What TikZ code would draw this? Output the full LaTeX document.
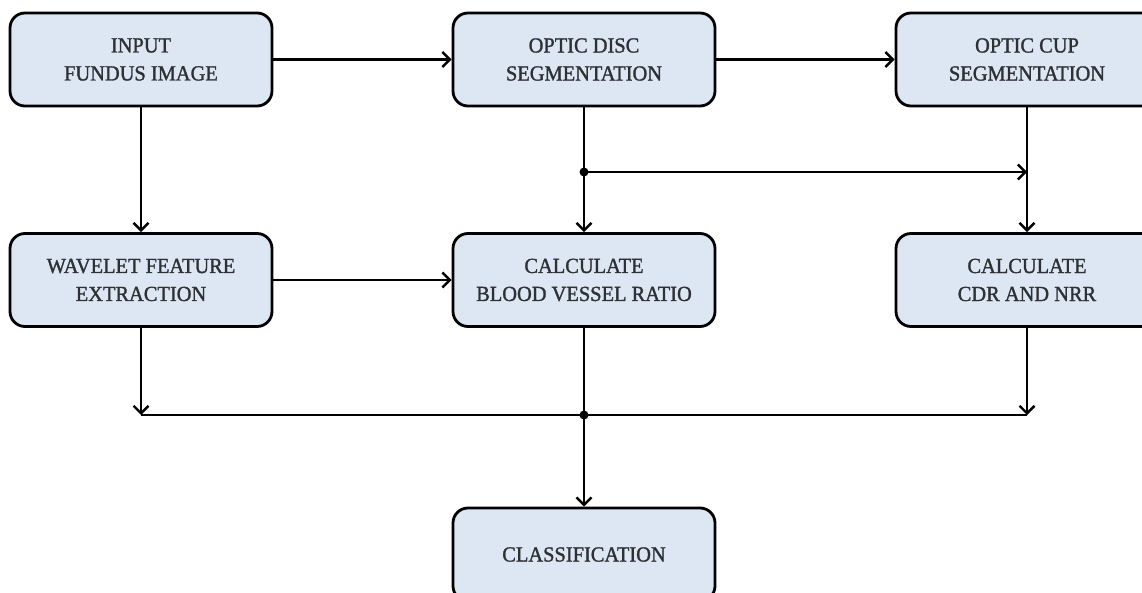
\documentclass[tikz,border=0pt]{standalone}
\usepackage{fontspec}
\setmainfont[FakeStretch=0.95,FakeBold=1.3]{Liberation Serif}
\usetikzlibrary{arrows.meta}
\definecolor{boxfill}{RGB}{221,231,243}
\definecolor{txt}{RGB}{45,48,52}
\tikzset{
  stepbox/.style={draw=black, line width=2.8pt, fill=boxfill, rounded corners=15pt,
    minimum width=262pt, minimum height=93pt, align=center, text=txt,
    font=\fontsize{21.5}{28}\selectfont, inner sep=0pt},
  conn/.style={line width=2.4pt, draw=black},
  arr/.style={conn, -{Straight Barb[length=7.5pt,width=15pt,line width=2.4pt]}},
  jdot/.style={circle, fill=black, inner sep=0pt, minimum size=9pt}
}
\begin{document}
\begin{tikzpicture}[x=1pt,y=-1pt]
\useasboundingbox (0,0) rectangle (1142,593);
\clip (0,0) rectangle (1142,593);
\node[stepbox] (A) at (141,59.5) {INPUT\\FUNDUS IMAGE};
\node[stepbox] (B) at (584,59.5) {OPTIC DISC\\SEGMENTATION};
\node[stepbox] (C) at (1027,59.5) {OPTIC CUP\\SEGMENTATION};
\node[stepbox] (D) at (141,280) {WAVELET FEATURE\\EXTRACTION};
\node[stepbox] (E) at (584,280) {CALCULATE\\BLOOD VESSEL RATIO};
\node[stepbox] (F) at (1027,280) {CALCULATE\\CDR AND NRR};
\node[stepbox] (G) at (584,554.5) {CLASSIFICATION};
\coordinate (j1) at (584,172);
\coordinate (j2) at (584,415);
\coordinate (l2) at (141,415);
\coordinate (r2) at (1027,415);
\coordinate (r1) at (1027,172);
\draw[arr] (A.east) -- (B.west);
\draw[arr] (B.east) -- (C.west);
\draw[arr] (A.south) -- (D.north);
\draw[conn] (B.south) -- (j1);
\draw[arr] (j1) -- (E.north);
\draw[arr] (j1) -- (r1);
\draw[arr] (C.south) -- (F.north);
\draw[arr] (D.east) -- (E.west);
\draw[arr] (D.south) -- (l2);
\draw[arr] (F.south) -- (r2);
\draw[conn] (l2) -- (r2);
\draw[conn] (E.south) -- (j2);
\draw[arr] (j2) -- (G.north);
\node[jdot] (d1) at (j1) {};
\node[jdot] (d2) at (j2) {};
\end{tikzpicture}
\end{document}
